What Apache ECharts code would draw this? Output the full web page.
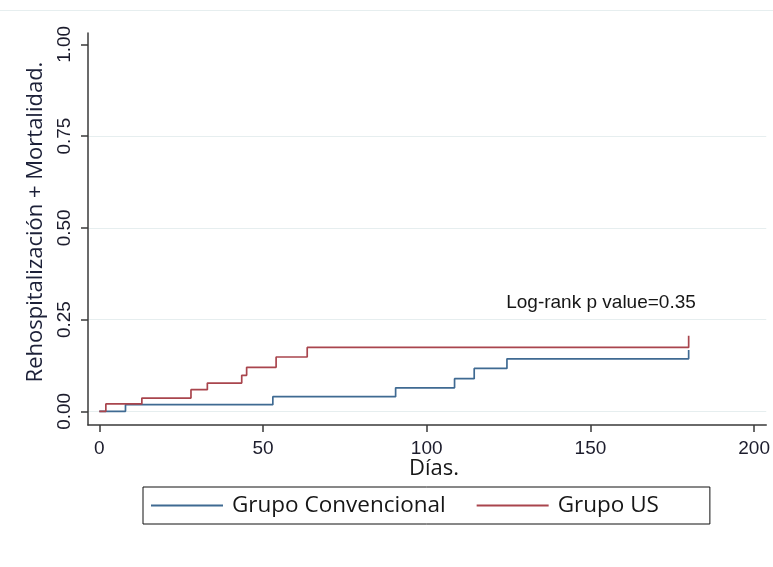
<!DOCTYPE html>
<html>
<head>
<meta charset="utf-8">
<script src="https://cdn.jsdelivr.net/npm/echarts@6/dist/echarts.min.js"></script>
<style>html,body{margin:0;padding:0;background:#fff}#c{width:773px;height:567px}</style>
</head>
<body>
<div id="c"></div>
<script>
// Kaplan-Meier style cumulative incidence (days, value after the event)
const convDays   = [0, 8, 53, 90.5, 108.5, 114.5, 124.5, 180];
const convValues = [0, 0.018, 0.040, 0.064, 0.089, 0.117, 0.143, 0.167];
const usDays     = [0, 2, 13, 28, 33, 43.5, 45, 54, 63.5, 180];
const usValues   = [0, 0.020, 0.036, 0.059, 0.077, 0.098, 0.120, 0.148, 0.174, 0.206];
const xTicks = [0, 50, 100, 150, 200];
const yTicks = [0, 0.25, 0.5, 0.75, 1];
const yGrid  = [0, 0.25, 0.5, 0.75];
const seriesNames = ['Grupo Convencional', 'Grupo US'];
const yTitle = 'Rehospitalización + Mortalidad.';
const xTitle = 'Días.';
const note = 'Log-rank p value=0.35';

const pair = (xs, ys) => xs.map((x, i) => [x, ys[i]]);
const chart = echarts.init(document.getElementById('c'), null, {renderer: 'canvas'});
const axisCol = '#3a3a3a';
const tickFont = {fontFamily: 'Liberation Sans, Arial', fontSize: 19, color: '#1c1c2c'};
chart.setOption({
  animation: false,
  backgroundColor: '#fff',
  grid: {left: 88, right: 6, top: 33, bottom: 142},
  xAxis: {
    type: 'value', min: -3.45, max: 203.7,
    axisLine: {show: true, onZero: false, lineStyle: {color: axisCol, width: 1.5}},
    axisTick: {show: true, length: 7, customValues: xTicks, lineStyle: {color: axisCol, width: 1.5}},
    axisLabel: Object.assign({customValues: xTicks, margin: 14}, tickFont),
    splitLine: {show: false}
  },
  yAxis: {
    type: 'value', min: -0.0373, max: 1.031,
    axisLine: {show: true, onZero: false, lineStyle: {color: axisCol, width: 1.5}},
    axisTick: {show: true, length: 7, customValues: yTicks, lineStyle: {color: axisCol, width: 1.5}},
    axisLabel: Object.assign({customValues: yTicks, rotate: 90, margin: 14,
      formatter: v => Number(v).toFixed(2)}, tickFont),
    splitLine: {show: false}
  },
  legend: {
    left: 143, top: 487,
    orient: 'horizontal',
    borderColor: '#111', borderWidth: 1,
    padding: [7, 51, 7, 8],
    itemWidth: 72, itemHeight: 2, itemGap: 31,
    icon: 'rect',
    textStyle: {fontFamily: 'Open Sans', fontSize: 22.5, color: '#161616', padding: [0, 0, 0, 4]},
    data: seriesNames
  },
  series: [
    {
      name: seriesNames[0], type: 'line', step: 'end', symbol: 'none',
      data: pair(convDays, convValues),
      lineStyle: {color: '#3f6a92', width: 1.7}, itemStyle: {color: '#3f6a92'},
      markLine: {
        silent: true, symbol: 'none', label: {show: false},
        lineStyle: {color: '#e6eeef', width: 1.2, type: 'solid'},
        data: yGrid.map(v => ({yAxis: v})),
        z: 0
      },
      z: 3
    },
    {
      name: seriesNames[1], type: 'line', step: 'end', symbol: 'none',
      data: pair(usDays, usValues),
      lineStyle: {color: '#a9454d', width: 1.7}, itemStyle: {color: '#a9454d'},
      z: 4
    }
  ],
  graphic: [
    {type: 'line', shape: {x1: 0, y1: 10.5, x2: 773, y2: 10.5}, style: {stroke: '#e6eeef', lineWidth: 1.2}},
    {type: 'text', x: 36, y: 222, rotation: Math.PI / 2,
      style: {text: yTitle, font: '22px "Open Sans"', fill: '#1c2038', textAlign: 'center', textVerticalAlign: 'middle'}},
    {type: 'text', x: 434, y: 469,
      style: {text: xTitle, font: '22px "Open Sans"', fill: '#161616', textAlign: 'center', textVerticalAlign: 'middle'}},
    {type: 'text', x: 601, y: 303,
      style: {text: note, font: '19px "Liberation Sans"', fill: '#161616', textAlign: 'center', textVerticalAlign: 'middle'}}
  ]
});
</script>
</body>
</html>
